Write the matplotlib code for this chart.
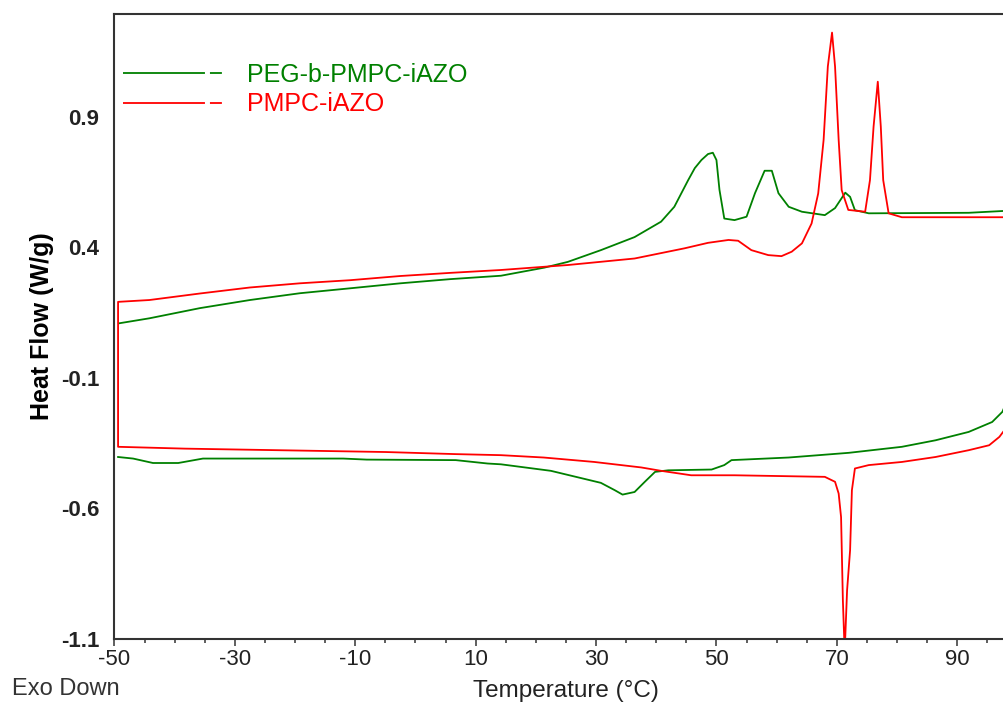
import numpy as np
import matplotlib
matplotlib.use('Agg')
import matplotlib.pyplot as plt
from matplotlib.lines import Line2D

plt.rcParams['font.family'] = ['Liberation Sans', 'DejaVu Sans']
plt.rcParams['lines.scale_dashes'] = False
plt.rcParams['axes.unicode_minus'] = False

# heating scans (upper curves), temperature in degC, heat flow in W/g
peg_heat_t = [-49.2, -44.2, -35.8, -27.5, -19.2, -10.8, -2.5, 5.8, 14.2, 21.4, 25.3,
              30.8, 36.4, 40.8, 43.0, 45.3, 46.4, 47.5, 48.6, 49.4, 50.0, 50.5, 51.3,
              53.0, 55.0, 56.4, 58.0, 59.2, 60.3, 62.0, 64.2, 68.0, 69.7, 71.4, 72.2,
              73.0, 75.3, 91.9, 98.5]
peg_heat_hf = [0.109, 0.128, 0.167, 0.198, 0.224, 0.243, 0.262, 0.278, 0.291, 0.322, 0.344,
               0.389, 0.439, 0.498, 0.555, 0.657, 0.703, 0.734, 0.757, 0.762, 0.734, 0.62, 0.51,
               0.504, 0.517, 0.607, 0.693, 0.693, 0.607, 0.555, 0.536, 0.523, 0.55, 0.609, 0.593,
               0.542, 0.530, 0.532, 0.540]

pmpc_heat_t = [-49.4, -44.2, -35.8, -27.5, -19.2, -10.8, -2.5, 5.8, 14.2, 25.3, 36.4, 44.7,
               48.6, 52.0, 53.6, 55.8, 58.6, 60.8, 62.5, 64.2, 65.8, 66.9, 67.8, 68.5, 69.2,
               69.7, 70.3, 70.8, 71.9, 74.7, 75.5, 76.1, 76.8, 77.3, 77.7, 78.6, 80.8, 98.5]
pmpc_heat_hf = [0.191, 0.198, 0.223, 0.246, 0.262, 0.274, 0.290, 0.302, 0.313, 0.332, 0.357, 0.396,
                0.417, 0.428, 0.425, 0.389, 0.370, 0.366, 0.383, 0.415, 0.491, 0.606, 0.811, 1.092, 1.222,
                1.092, 0.811, 0.619, 0.543, 0.536, 0.657, 0.862, 1.034, 0.862, 0.657, 0.530, 0.515, 0.515]

# cooling scans (lower curves)
peg_cool_t = [-49.4, -46.9, -43.6, -39.4, -35.3, -12.0, -8.1, 6.7, 12.0, 14.2, 22.5, 30.8,
              33.1, 34.4, 36.4, 38.1, 39.8, 42.0, 49.2, 51.3, 52.5, 62.0, 72.0, 80.8, 86.4,
              91.9, 95.8, 97.5, 98.5]
peg_cool_hf = [-0.403, -0.409, -0.426, -0.426, -0.409, -0.409, -0.413, -0.415, -0.428, -0.431, -0.456, -0.502,
               -0.530, -0.547, -0.537, -0.498, -0.460, -0.454, -0.451, -0.434, -0.415, -0.405, -0.387, -0.364, -0.339,
               -0.307, -0.269, -0.230, -0.175]

pmpc_cool_t = [-49.4, -38.3, -22.8, -4.9, 6.7, 14.2, 21.3, 29.7, 37.5, 40.8, 45.8, 53.0, 63.0,
               68.0, 69.7, 70.3, 70.7, 71.0, 71.3, 71.7, 72.2, 72.5, 73.0, 75.3, 80.8, 86.4,
               91.9, 95.3, 97.0, 98.5]
pmpc_cool_hf = [-0.364, -0.371, -0.377, -0.384, -0.392, -0.396, -0.405, -0.422, -0.443, -0.456, -0.473, -0.473, -0.477,
                -0.479, -0.498, -0.543, -0.633, -0.952, -1.15, -0.913, -0.760, -0.530, -0.447, -0.434, -0.422, -0.403,
                -0.377, -0.358, -0.326, -0.28]

labels = ['PEG-b-PMPC-iAZO', 'PMPC-iAZO']
colors = ['#008000', '#ff0000']
xticks = [-50, -30, -10, 10, 30, 50, 70, 90]
yticks = [-1.1, -0.6, -0.1, 0.4, 0.9]

fig = plt.figure(figsize=(10.04, 7.02), dpi=100)
ax = fig.add_axes([0.1140, 0.0897, 0.8994, 0.8903])

ax.plot(peg_heat_t, peg_heat_hf, color=colors[0], lw=1.3)
ax.plot(peg_cool_t, peg_cool_hf, color=colors[0], lw=1.3)
# red run: cooling back to -50 then heating, joined by the jump at -50
pmpc_t = pmpc_cool_t[::-1] + pmpc_heat_t
pmpc_hf = pmpc_cool_hf[::-1] + pmpc_heat_hf
ax.plot(pmpc_t, pmpc_hf, color=colors[1], lw=1.3)

ax.set_xlim(-50, 100)
ax.set_ylim(-1.1, 1.293)
ax.set_xticks(xticks)
ax.set_xticks(np.arange(-50, 101, 5), minor=True)
ax.set_yticks(yticks)
ax.set_yticklabels(['%.1f' % v for v in yticks], fontweight='bold')

for s in ['left', 'top', 'bottom', 'right']:
    ax.spines[s].set_color('#333333')
    ax.spines[s].set_linewidth(1.5)

ax.tick_params(axis='y', length=0, pad=11, labelsize=16, labelcolor='#222222')
ax.tick_params(axis='x', which='major', length=5, width=1.1, pad=2.5, labelsize=16,
               color='#333333', labelcolor='#222222')
ax.tick_params(axis='x', which='minor', length=3, width=1.1, color='#333333')

ax.set_ylabel('Heat Flow (W/g)', fontsize=18, fontweight='bold', va='center')
ax.yaxis.set_label_coords(-0.0803, 0.5)
ax.set_xlabel('Temperature (°C)', fontsize=17.5, va='center', color='#222222')
ax.xaxis.set_label_coords(0.4997, -0.083)

fig.text(12 / 1004, 1 - 689 / 702, 'Exo Down', fontsize=17, va='center', ha='left', color='#333333')

handles = [Line2D([], [], color=c, lw=1.3, linestyle=(0, (59, 3.6, 8.6, 60))) for c in colors]
leg = ax.legend(handles, labels, loc='upper left', bbox_to_anchor=(0.0094, 0.922),
                frameon=False, fontsize=18, handlelength=3.95, handletextpad=1.0,
                labelspacing=0.22, borderpad=0, borderaxespad=0)
for txt, c in zip(leg.get_texts(), colors):
    txt.set_color(c)

fig.savefig('out.png', dpi=100)
